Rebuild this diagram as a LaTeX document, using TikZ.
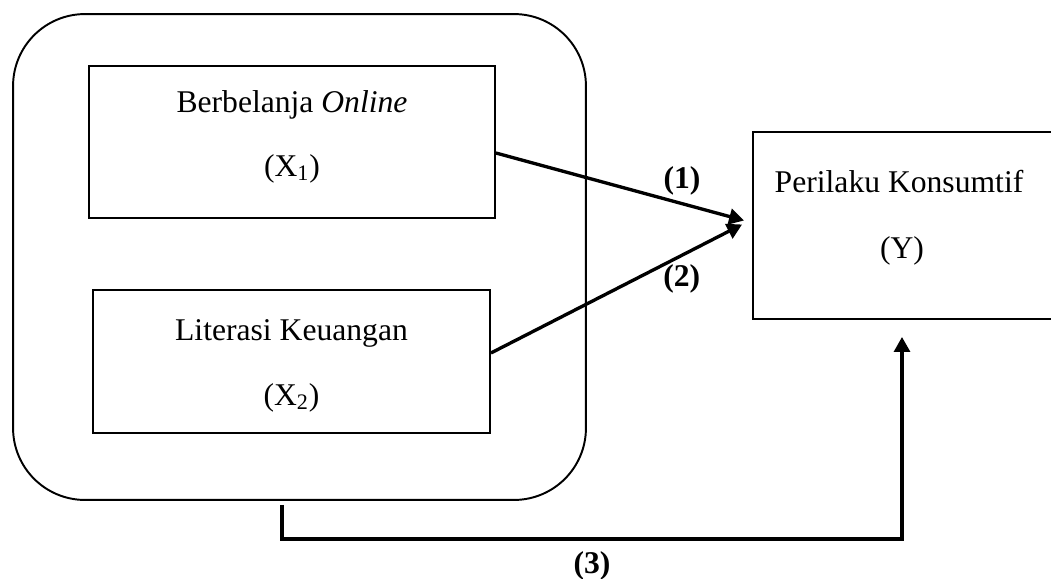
\documentclass[tikz,border=0pt]{standalone}
\usepackage{fontspec}
\setmainfont{Liberation Serif}
\usetikzlibrary{arrows.meta,positioning,calc}

\begin{document}
\begin{tikzpicture}[x=0.02cm, y=-0.02cm,
      factor/.style={draw, line width=1.1pt, inner sep=0pt},
      link/.style={-{Triangle[length=8.5pt,width=9pt]}, line width=1.9pt},
      tag/.style={font=\fontsize{18}{22}\selectfont\bfseries, inner sep=0pt},
      every node/.style={font=\fontsize{18}{22}\selectfont}
    ]
    \useasboundingbox (0,0) rectangle (1051,578);

    \node[factor, rounded corners=1.44cm, minimum width=11.46cm, minimum height=9.72cm] (grp) at (299.5,257) {};
    \node[factor, minimum width=8.12cm, minimum height=3.04cm] (x1) at (292,142) {};
    \node[factor, minimum width=7.94cm, minimum height=2.86cm] (x2) at (291.5,361.5) {};
    % right side of Y runs off the page
    \node[factor, minimum width=6.02cm, minimum height=3.74cm] (y) at (903.5,225.5) {};

    \node[anchor=base] (x1name) at (292,112) {Berbelanja \textit{Online}};
    \node[anchor=base] (x1sym) at (292,176) {(X\textsubscript{1})};
    \node[anchor=base] (x2name) at (291.5,340) {Literasi Keuangan};
    \node[anchor=base] (x2sym) at (291.5,405) {(X\textsubscript{2})};
    \node[anchor=base] (yname) at (899,192) {Perilaku Konsumtif};
    \node[anchor=base] (ysym) at (902,258) {(Y)};

    \draw[link] ($(x1.east)+(0,11)$) -- ($(y.west)+(-8,-5)$) node[pos=0.75, above=4pt, tag] {(1)};
    \draw[link] ($(x2.east)+(0,-8.5)$) -- ($(y.west)+(-10,-1)$) node[pos=0.76, below=4.5pt, tag] {(2)};
    \draw[link] ($(grp.south)+(-17.5,4)$) |- ($(y.south)+(-1.5,219)$) node[pos=0.75, below=6pt, tag] {(3)} -- ($(y.south)+(-1.5,17)$);
  \end{tikzpicture}
\end{document}
